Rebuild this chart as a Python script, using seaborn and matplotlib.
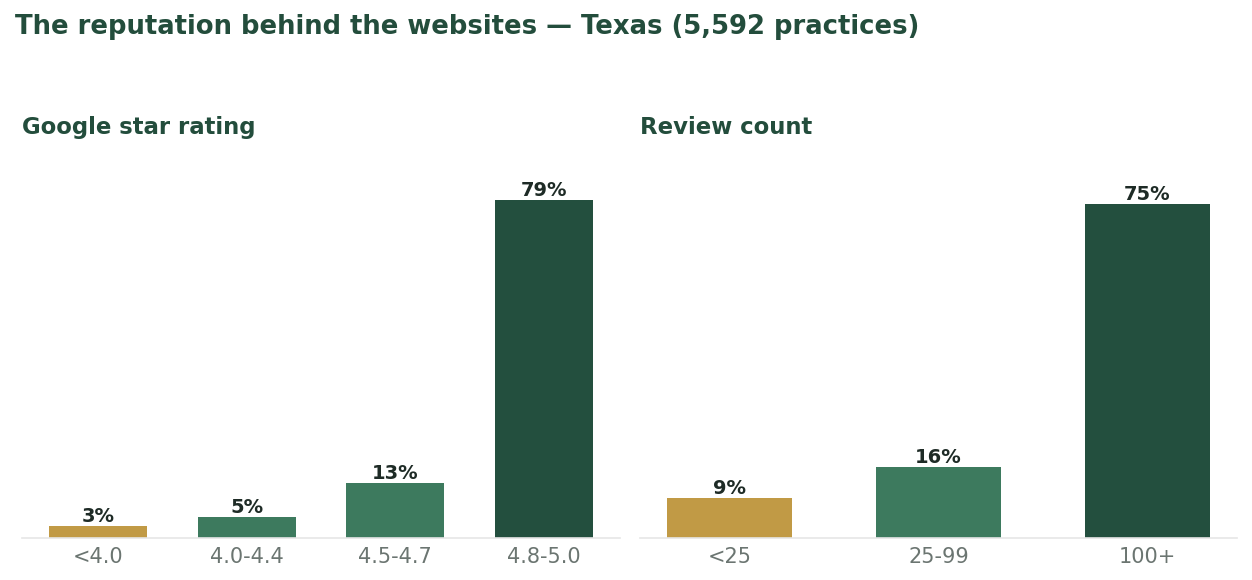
import matplotlib
matplotlib.use("Agg")
import matplotlib.pyplot as plt
import seaborn as sns
import pandas as pd

rating_cats = ["<4.0", "4.0-4.4", "4.5-4.7", "4.8-5.0"]
rating_vals = [2.8, 4.9, 12.9, 79.1]
rating_labels = ["3%", "5%", "13%", "79%"]

review_cats = ["<25", "25-99", "100+"]
review_vals = [8.8, 16.0, 75.2]
review_labels = ["9%", "16%", "75%"]

GOLD = "#c19a45"
MID = "#3d7a5e"
DARK = "#234f3e"
rating_colors = [GOLD, MID, MID, DARK]
review_colors = [GOLD, MID, DARK]

TITLE_COLOR = "#234d3c"
VALUE_COLOR = "#1e2b26"
TICK_COLOR = "#6b7571"

sns.set_theme(style="white")
plt.rcParams["font.family"] = ["DejaVu Sans"]

W, H = 1252, 580
fig = plt.figure(figsize=(W / 100, H / 100), dpi=100)

ax1 = fig.add_axes([22 / W, 42.5 / H, 598 / W, 387 / H])
ax2 = fig.add_axes([640 / W, 42.5 / H, 597 / W, 387 / H])


def draw(ax, cats, vals, labels, colors, width, title, headroom):
    df = pd.DataFrame({"cat": cats, "val": vals})
    sns.barplot(data=df, x="cat", y="val", hue="cat", palette=colors,
                dodge=False, legend=False, width=width, ax=ax,
                saturation=1, order=cats, hue_order=cats, linewidth=0)
    n = len(cats)
    span = (n - 1) + width
    m = 0.05 * span
    ax.set_xlim(-width / 2 - m, n - 1 + width / 2 + m)
    ax.set_ylim(0, max(vals) * headroom)
    for i, (v, lab) in enumerate(zip(vals, labels)):
        ax.annotate(lab, (i, v), xytext=(0, 0), textcoords="offset points",
                    ha="center", va="bottom", fontsize=14, fontweight="bold",
                    color=VALUE_COLOR)
    ax.set_xlabel("")
    ax.set_ylabel("")
    ax.set_yticks([])
    for s in ["top", "right", "left"]:
        ax.spines[s].set_visible(False)
    ax.spines["bottom"].set_color("#e6e6e6")
    ax.spines["bottom"].set_linewidth(1.2)
    ax.tick_params(axis="x", length=0, labelsize=15, colors=TICK_COLOR, pad=6.5)
    ax.set_title(title, loc="left", fontsize=16.4, fontweight="bold",
                 color=TITLE_COLOR, pad=12)


draw(ax1, rating_cats, rating_vals, rating_labels, rating_colors, 0.66,
     "Google star rating", 1.148)
draw(ax2, review_cats, review_vals, review_labels, review_colors, 0.6,
     "Review count", 1.16)

fig.text(15 / W, 1 - 27.5 / H,
         "The reputation behind the websites \u2014 Texas (5,592 practices)",
         ha="left", va="center", fontsize=18.6, fontweight="bold",
         color=TITLE_COLOR)

fig.savefig("out.png", dpi=100, facecolor="white")
